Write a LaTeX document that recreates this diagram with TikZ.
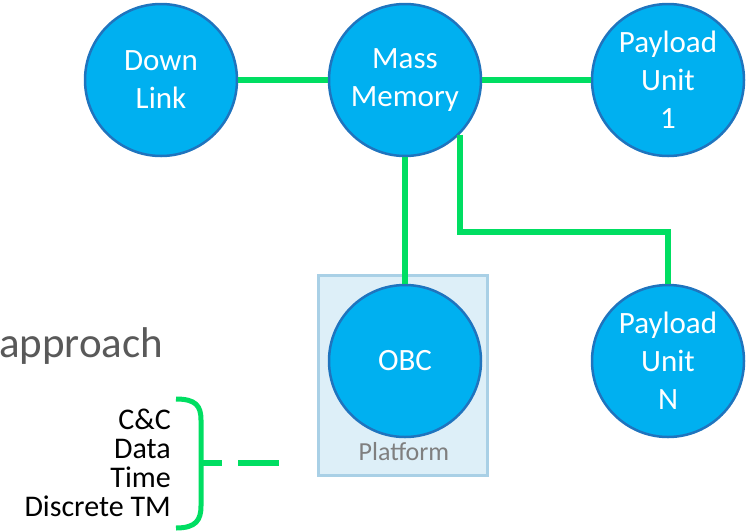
\documentclass[tikz,border=0pt]{standalone}
\usepackage{fontspec}
\setmainfont{Carlito}
\definecolor{unitblue}{HTML}{00B0F0}
\definecolor{unitedge}{HTML}{1F74BE}
\definecolor{linkgreen}{RGB}{0,222,98}
\definecolor{platfill}{HTML}{DDEFF8}
\definecolor{platedge}{HTML}{A9D0E6}
\definecolor{titlegray}{HTML}{595959}
\definecolor{platgray}{HTML}{7F7F7F}
\tikzset{
  unit/.style={circle, draw=unitedge, fill=unitblue, line width=2.5pt,
    minimum size=152pt, inner sep=0pt, text=white, align=center,
    font=\fontsize{31}{38}\selectfont},
  link/.style={draw=linkgreen, line width=6pt},
  platformbox/.style={draw=platedge, fill=platfill, line width=3pt,
    minimum width=169pt, minimum height=200pt, inner sep=0pt},
}
\begin{document}
\begin{tikzpicture}[x=1pt,y=-1pt]
        \useasboundingbox (0,0) rectangle (747,531);
        %% Title fragment
        \node[anchor=base west, text=titlegray, font=\fontsize{43}{50}\selectfont, inner sep=0pt]
            (title) at (-1,357) {approach};
        %% Platform frame
        \node[platformbox] (plat) at (402.5,375) {};
        \node[text=platgray, font=\fontsize{26}{30}\selectfont] (platname) at (404,452) {Platform};
        %% Units
        \node[unit] (down) at (161,80) {Down\\Link};
        \node[unit] (mass) at (405,80) {Mass\\Memory};
        \node[unit] (pu1) at (668,80) {Payload\\Unit\\1};
        \node[unit] (obc) at (405,361) {OBC};
        \node[unit] (pun) at (668,361) {Payload\\Unit\\N};
        %% Links
        \coordinate (split) at (0,232);
        \draw[link] (down) -- (mass);
        \draw[link] (mass) -- (pu1);
        \draw[link] (mass) -- (obc);
        \draw[link] (mass.south east) -- (mass.south east |- split) -| (pun);
        %% Signal list and brace
        \node[anchor=east, align=right, font=\fontsize{30}{29}\selectfont, inner sep=0pt]
            (signals) at (171,463) {C\&C\\Data\\Time\\Discrete TM};
        \coordinate (bracemid) at (201,463);
        \coordinate (bracetip) at (222,463);
        \coordinate (dashfrom) at (238,463);
        \coordinate (dashto) at (279,463);
        \draw[link, line width=5pt] (176,399) .. controls (196,399) and (201,406) .. (201,420)
            -- (201,506) .. controls (201,520) and (196,528) .. (176,528);
        \draw[link] (bracemid) -- (bracetip);
        \draw[link] (dashfrom) -- (dashto);
    \end{tikzpicture}
\end{document}
